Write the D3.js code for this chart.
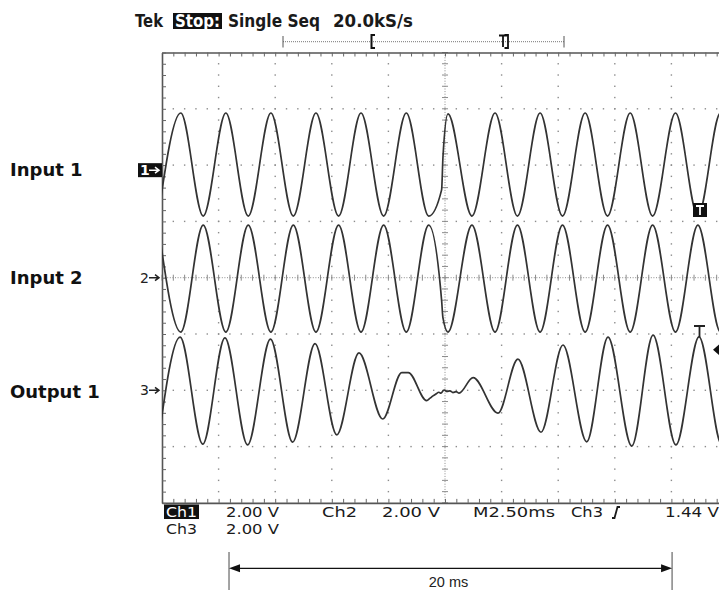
<!DOCTYPE html>
<html><head><meta charset="utf-8">
<script src="https://cdn.jsdelivr.net/npm/d3@7/dist/d3.min.js"></script>
<style>body{margin:0;background:#fff}svg{display:block}</style>
</head><body>
<svg id="c" width="719" height="590"></svg>
<script>
// ---------------- data ----------------
const timePerDiv = 2.5;      // ms / div
const voltsPerDiv = 2.0;     // V / div
const channelNames = ["Input 1", "Input 2", "Output 1"];
const channelIds = ["1", "2", "3"];
const channelPositions = [1.91, 0, -2.0];   // ground marker, divisions

// Ch1 extrema (ms, V)
const ch1Time = [-12.67,-11.67,-10.68,-9.68,-8.69,-7.69,-6.70,-5.70,-4.70,-3.71,-2.71,-1.71,-0.72,-0.15,-0.09,0.13,1.19,2.21,3.20,4.20,5.19,6.19,7.18,8.18,9.17,10.18,11.17,12.17,13.16];
const ch1Volts = [-1.63,2.03,-1.63,2.03,-1.63,2.03,-1.63,2.03,-1.63,2.03,-1.63,2.03,-1.63,-0.70,0.47,2.0,-1.63,2.03,-1.63,2.03,-1.63,2.03,-1.63,2.03,-1.63,2.03,-1.63,2.03,-1.63];
// Ch2 extrema (ms, V)
const ch2Time = [-12.67,-11.67,-10.68,-9.68,-8.69,-7.69,-6.70,-5.70,-4.70,-3.71,-2.71,-1.71,-0.72,-0.15,-0.09,0.13,1.19,2.21,3.20,4.20,5.19,6.19,7.18,8.18,9.17,10.18,11.17,12.17,13.16];
const ch2Volts = [1.87,-1.93,1.87,-1.93,1.87,-1.93,1.87,-1.93,1.87,-1.93,1.87,-1.93,1.87,-0.80,-1.43,-1.93,1.87,-1.93,1.87,-1.93,1.87,-1.93,1.87,-1.93,1.87,-1.93,1.87,-1.93,1.87];
// Ch3 (output) points (ms, V)
const ch3Time = [-12.68,-11.70,-10.70,-9.72,-8.72,-7.71,-6.73,-5.74,-4.78,-3.80,-2.75,-1.91,-1.62,-0.81,-0.66,-0.53,-0.40,-0.27,-0.18,-0.04,0.09,0.22,0.35,0.49,0.62,1.24,2.34,3.22,4.24,5.21,6.26,7.20,8.25,9.19,10.20,11.22,12.23,13.24];
const ch3Volts = [-1.91,1.89,-1.91,1.86,-1.94,1.82,-1.84,1.66,-1.58,1.33,-1.02,0.63,0.63,-0.37,-0.28,-0.20,-0.13,-0.07,-0.10,0.01,-0.04,-0.02,-0.08,-0.05,-0.10,0.45,-0.81,1.11,-1.49,1.61,-1.83,1.89,-1.98,1.96,-1.94,1.90,-1.94,1.90];

const headerTexts = ["Tek", "Stop:", "Single Seq", "20.0kS/s"];
const readoutRow1 = ["Ch1", "2.00 V", "Ch2", "2.00 V", "M2.50ms", "Ch3", "1.44 V"];
const readoutRow2 = ["Ch3", "2.00 V"];
const spanStart = -9.54, spanEnd = 10.03;   // ms, annotation arrow
const spanLabel = "20 ms";
const triggerLevelV = 1.44;

// ---------------- drawing ----------------
const svg = d3.select("#c");
const x = d3.scaleLinear().domain([-5 * timePerDiv, 5 * timePerDiv]).range([162, 728]);
const y = d3.scaleLinear().domain([-4, 4]).range([502.9, 52.5]);
const gridCol = "#8c8c8c";

const minorX = d3.range(-25, 26).map(i => i * timePerDiv / 5);
const minorY = d3.range(-20, 21).map(i => i / 5);
const majorX = d3.range(-5, 6).map(i => i * timePerDiv);
const majorY = d3.range(-4, 5);

const g = svg.append("g");
// dotted grid lines
majorX.filter(v => v !== 0 && Math.abs(v) < 12.5).forEach(mx => {
  g.selectAll(null).data(minorY.filter(v => Math.abs(v) < 4)).enter().append("rect")
    .attr("x", x(mx) - 0.7).attr("y", d => y(d) - 0.7).attr("width", 1.4).attr("height", 1.4).attr("fill", gridCol);
});
majorY.filter(v => v !== 0 && Math.abs(v) < 4).forEach(my => {
  g.selectAll(null).data(minorX.filter(v => Math.abs(v) < 12.5)).enter().append("rect")
    .attr("x", d => x(d) - 0.7).attr("y", y(my) - 0.7).attr("width", 1.4).attr("height", 1.4).attr("fill", gridCol);
});
// centre lines
g.append("line").attr("x1", x(-12.5)).attr("x2", x(12.5)).attr("y1", y(0)).attr("y2", y(0))
  .attr("stroke", gridCol).attr("stroke-dasharray", "1,1.6");
g.append("line").attr("x1", x(0)).attr("x2", x(0)).attr("y1", y(-4)).attr("y2", y(4))
  .attr("stroke", gridCol).attr("stroke-dasharray", "1,1.6");
const tickStyle = s => s.attr("stroke", gridCol).attr("stroke-width", 1);
g.selectAll(null).data(minorX).enter().append("line")
  .attr("x1", d => x(d)).attr("x2", d => x(d)).attr("y1", y(0) - 3).attr("y2", y(0) + 3).call(tickStyle);
g.selectAll(null).data(minorY).enter().append("line")
  .attr("y1", d => y(d)).attr("y2", d => y(d)).attr("x1", x(0) - 3).attr("x2", x(0) + 3).call(tickStyle);

// border with inward ticks via axes
const fmt = () => "";
const axTop = svg.append("g").attr("transform", `translate(0,${y(4)})`)
  .call(d3.axisBottom(x).tickValues(minorX).tickSize(4).tickSizeOuter(0).tickFormat(fmt));
const axBot = svg.append("g").attr("transform", `translate(0,${y(-4)})`)
  .call(d3.axisTop(x).tickValues(minorX).tickSize(4).tickSizeOuter(0).tickFormat(fmt));
const axLeft = svg.append("g").attr("transform", `translate(${x(-12.5)},0)`)
  .call(d3.axisRight(y).tickValues(minorY).tickSize(4).tickSizeOuter(0).tickFormat(fmt));
const axRight = svg.append("g").attr("transform", `translate(${x(12.5)},0)`)
  .call(d3.axisLeft(y).tickValues(minorY).tickSize(4).tickSizeOuter(0).tickFormat(fmt));
[axTop, axBot, axLeft, axRight].forEach(a => {
  a.selectAll("path").attr("stroke", "#555").attr("stroke-width", 1.6);
  a.selectAll("line").attr("stroke", "#666").attr("stroke-width", 1);
});

// traces
svg.append("clipPath").attr("id", "scr").append("rect")
  .attr("x", x(-12.5)).attr("y", y(4)).attr("width", x(12.5) - x(-12.5)).attr("height", y(-4) - y(4));
const series = [
  ch1Time.map((t, i) => ({t, v: ch1Volts[i]})),
  ch2Time.map((t, i) => ({t, v: ch2Volts[i]})),
  ch3Time.map((t, i) => ({t, v: ch3Volts[i]}))
];
const tg = svg.append("g").attr("clip-path", "url(#scr)");
series.forEach((s, k) => {
  const line = d3.line().x(d => x(d.t)).y(d => y(channelPositions[k] + d.v / voltsPerDiv)).curve(d3.curveMonotoneX);
  tg.append("path").attr("d", line(s)).attr("fill", "none").attr("stroke", "#333")
    .attr("stroke-width", 1.7).attr("stroke-linejoin", "round");
});

// channel labels (left)
svg.selectAll(null).data(channelNames).enter().append("text")
  .attr("x", 10).attr("y", (d, i) => y(channelPositions[i]) + 6 + (i === 2 ? 2 : 0))
  .attr("font-family", "DejaVu Sans").attr("font-weight", "bold").attr("font-size", 18)
  .attr("fill", "#111").text(d => d);

// ground markers
channelIds.forEach((id, i) => {
  const yy = y(channelPositions[i]);
  if (i === 0) {
    svg.append("rect").attr("x", 138).attr("y", yy - 7).attr("width", 24).attr("height", 14).attr("fill", "#111");
  }
  svg.append("text").attr("x", 140).attr("y", yy + 5)
    .attr("font-family", "DejaVu Sans").attr("font-size", 14).attr("font-weight", i === 0 ? "bold" : "normal")
    .attr("fill", i === 0 ? "#fff" : "#222").text(id);
  svg.append("path")
    .attr("d", `M${149},${yy} L${158},${yy} M${155},${yy - 3} L${159},${yy} L${155},${yy + 3}`)
    .attr("stroke", i === 0 ? "#fff" : "#222").attr("stroke-width", 1.5).attr("fill", "none");
});

// header
const hx = [135, 175, 228, 333];
const hw = [28, 45, 92, 80];
svg.append("rect").attr("x", 173).attr("y", 13).attr("width", 49).attr("height", 16).attr("fill", "#111");
svg.selectAll(null).data(headerTexts).enter().append("text")
  .attr("x", (d, i) => hx[i]).attr("y", 26.5)
  .attr("textLength", (d, i) => hw[i]).attr("lengthAdjust", "spacingAndGlyphs")
  .attr("font-family", "DejaVu Sans").attr("font-size", 17).attr("font-weight", "bold")
  .attr("fill", (d, i) => i === 1 ? "#fff" : "#1a1a1a").text(d => d);

// record-window bar
const bar = svg.append("g").attr("stroke", "#555").attr("fill", "none");
bar.append("line").attr("x1", 283).attr("x2", 564).attr("y1", 41.7).attr("y2", 41.7)
  .attr("stroke-dasharray", "1,1").attr("stroke", "#777");
bar.append("line").attr("x1", 283).attr("x2", 283).attr("y1", 36).attr("y2", 47.5);
bar.append("line").attr("x1", 564).attr("x2", 564).attr("y1", 36).attr("y2", 47.5);
bar.append("path").attr("d", "M375,35 L371.5,35 L371.5,48 L375,48").attr("stroke", "#111").attr("stroke-width", 2);
bar.append("path").attr("d", "M499,35.5 L507,35.5 M503,35.5 L503,47").attr("stroke", "#111").attr("stroke-width", 1.8);
bar.append("path").attr("d", "M504.5,35 L508,35 L508,48 L504.5,48").attr("stroke", "#111").attr("stroke-width", 1.8);

// trigger markers at right
svg.append("rect").attr("x", 693).attr("y", 203).attr("width", 14).attr("height", 14).attr("fill", "#111");
svg.append("path").attr("d", "M696,206 L704,206 M700,206 L700,215").attr("stroke", "#fff").attr("stroke-width", 1.8);
svg.append("path").attr("d", "M694,326 L705,326 M699.5,326 L699.5,337").attr("stroke", "#222").attr("stroke-width", 1.8).attr("fill", "none");
const tly = y(channelPositions[2] + triggerLevelV / voltsPerDiv);
svg.append("path").attr("d", `M713,${tly} L720,${tly - 6} L720,${tly + 6} Z`).attr("fill", "#111");

// readout
const r1x = [166, 226, 322, 382, 473, 571, 665];
const r1w = [31, 53, 35, 58, 82, 32, 54];
svg.append("rect").attr("x", 164).attr("y", 504.5).attr("width", 35).attr("height", 14.5).attr("fill", "#111");
svg.selectAll(null).data(readoutRow1).enter().append("text")
  .attr("x", (d, i) => r1x[i]).attr("y", 517)
  .attr("textLength", (d, i) => r1w[i]).attr("lengthAdjust", "spacingAndGlyphs")
  .attr("font-family", "DejaVu Sans").attr("font-size", 14)
  .attr("fill", (d, i) => i === 0 ? "#fff" : "#1a1a1a").text(d => d);
const r2x = [166, 226], r2w = [31, 53];
svg.selectAll(null).data(readoutRow2).enter().append("text")
  .attr("x", (d, i) => r2x[i]).attr("y", 534)
  .attr("textLength", (d, i) => r2w[i]).attr("lengthAdjust", "spacingAndGlyphs")
  .attr("font-family", "DejaVu Sans").attr("font-size", 14)
  .attr("fill", "#1a1a1a").text(d => d);
// slope symbol
svg.append("path").attr("d", "M612,518 L614.5,518 L617.5,507 L620,507").attr("stroke", "#1a1a1a").attr("stroke-width", 1.8).attr("fill", "none");

// span annotation
const ax0 = x(spanStart), ax1 = x(spanEnd), ay = 568.3;
svg.append("line").attr("x1", ax0).attr("x2", ax0).attr("y1", 552).attr("y2", 590).attr("stroke", "#666").attr("stroke-width", 1.2);
svg.append("line").attr("x1", ax1).attr("x2", ax1).attr("y1", 552).attr("y2", 590).attr("stroke", "#666").attr("stroke-width", 1.2);
svg.append("line").attr("x1", ax0 + 8).attr("x2", ax1 - 8).attr("y1", ay).attr("y2", ay).attr("stroke", "#111").attr("stroke-width", 1.3);
svg.append("path").attr("d", `M${ax0},${ay} L${ax0 + 11},${ay - 4} L${ax0 + 11},${ay + 4} Z M${ax1},${ay} L${ax1 - 11},${ay - 4} L${ax1 - 11},${ay + 4} Z`).attr("fill", "#111");
svg.append("text").attr("x", (ax0 + ax1) / 2 - 2).attr("y", 586.5).attr("text-anchor", "middle")
  .attr("font-family", "Liberation Sans").attr("font-size", 14.5).attr("fill", "#222").text(spanLabel);
</script>
</body></html>
